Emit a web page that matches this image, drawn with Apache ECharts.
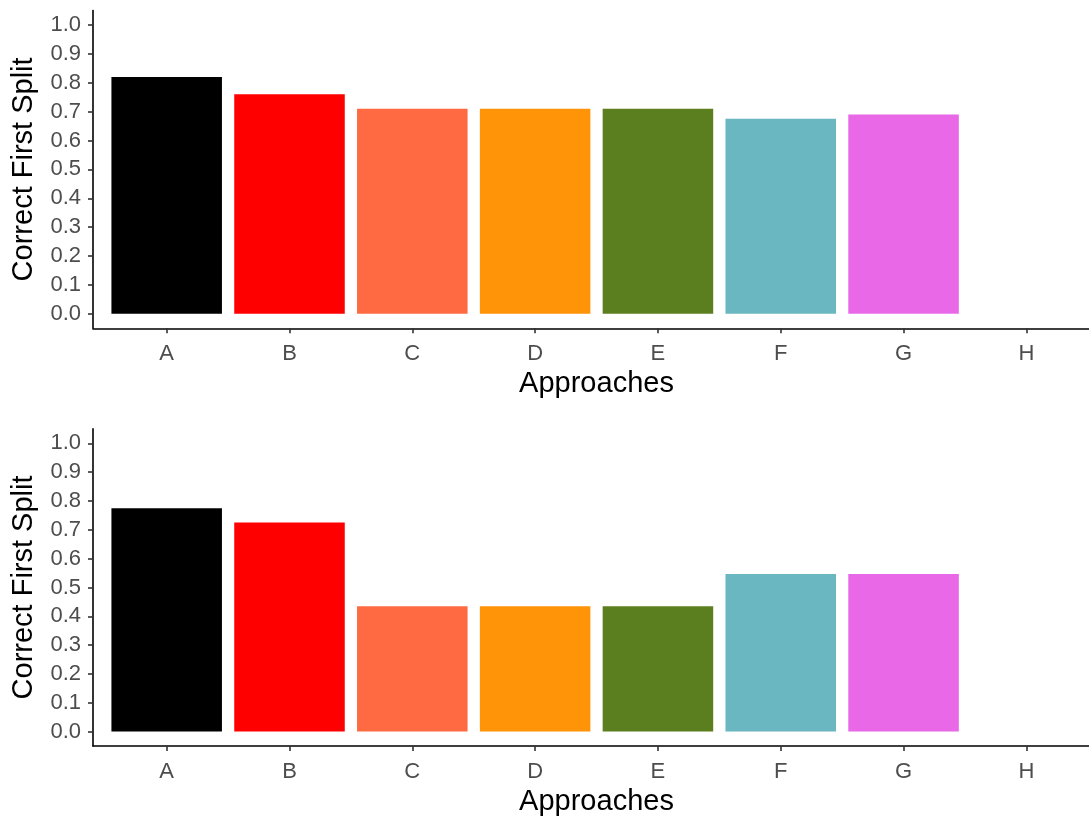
<!DOCTYPE html>
<html>
<head>
<meta charset="utf-8">
<script src="https://cdn.jsdelivr.net/npm/echarts@6/dist/echarts.min.js"></script>
<style>html,body{margin:0;padding:0;background:#fff;}#c{width:1089px;height:818px;}</style>
</head>
<body>
<div id="c"></div>
<script>
const categories = ['A','B','C','D','E','F','G','H'];
const topValues = [0.82, 0.76, 0.71, 0.71, 0.71, 0.675, 0.69, null];
const bottomValues = [0.775, 0.725, 0.435, 0.435, 0.435, 0.547, 0.547, null];
const barColors = ['#000000','#FF0000','#FF6A42','#FF9409','#5B7E1F','#6AB7C1','#E868E8','#999999'];
const yTicks = [0, 0.1, 0.2, 0.3, 0.4, 0.5, 0.6, 0.7, 0.8, 0.9, 1.0];
const xTicks = [0, 1, 2, 3, 4, 5, 6, 7];
const xTitle = 'Approaches';
const yTitle = 'Correct First Split';

const FONT = 'Liberation Sans, Arial, Helvetica, sans-serif';

function barData(vals) {
  const out = [];
  vals.forEach((v, i) => {
    if (v !== null) out.push({ value: [i, v], itemStyle: { color: barColors[i] } });
  });
  return out;
}

function xAxisCfg(gi) {
  return {
    // the panel continues past the right edge of the picture (ggplot expansion 0.6)
    type: 'value', gridIndex: gi, min: -0.6, max: 7.51,
    name: xTitle, nameLocation: 'middle', nameGap: 41,
    nameTextStyle: { fontFamily: FONT, fontSize: 29, color: '#000', padding: [0, 0, 0, 11] },
    splitLine: { show: false },
    axisLine: { show: true, onZero: false, lineStyle: { color: '#000', width: 1.6 } },
    axisTick: { show: true, length: 5, customValues: xTicks, lineStyle: { color: '#333', width: 1.6 } },
    axisLabel: { customValues: xTicks, margin: 15, fontFamily: FONT, fontSize: 22, color: '#4D4D4D',
      formatter: v => categories[Math.round(v)] }
  };
}
function yAxisCfg(gi) {
  return {
    type: 'value', gridIndex: gi, min: -0.05, max: 1.05,
    name: yTitle, nameLocation: 'middle', nameGap: 55,
    nameTextStyle: { fontFamily: FONT, fontSize: 29, color: '#000' },
    splitLine: { show: false },
    axisLine: { show: true, onZero: false, lineStyle: { color: '#000', width: 1.6 } },
    axisTick: { show: true, length: 5, customValues: yTicks, lineStyle: { color: '#333', width: 1.6 } },
    axisLabel: { customValues: yTicks, margin: 12, fontFamily: FONT, fontSize: 22, color: '#4D4D4D',
      formatter: v => v.toFixed(1) }
  };
}

const chart = echarts.init(document.getElementById('c'), null, { renderer: 'canvas' });
chart.setOption({
  backgroundColor: '#fff',
  animation: false,
  grid: [
    { left: 93, top: 10.5, right: 0, height: 317.8 },
    { left: 93, top: 428.9, right: 0, height: 317.1 }
  ],
  xAxis: [xAxisCfg(0), xAxisCfg(1)],
  yAxis: [yAxisCfg(0), yAxisCfg(1)],
  series: [
    { type: 'bar', xAxisIndex: 0, yAxisIndex: 0, barWidth: '90%', data: barData(topValues) },
    { type: 'bar', xAxisIndex: 1, yAxisIndex: 1, barWidth: '90%', data: barData(bottomValues) }
  ]
});
</script>
</body>
</html>
